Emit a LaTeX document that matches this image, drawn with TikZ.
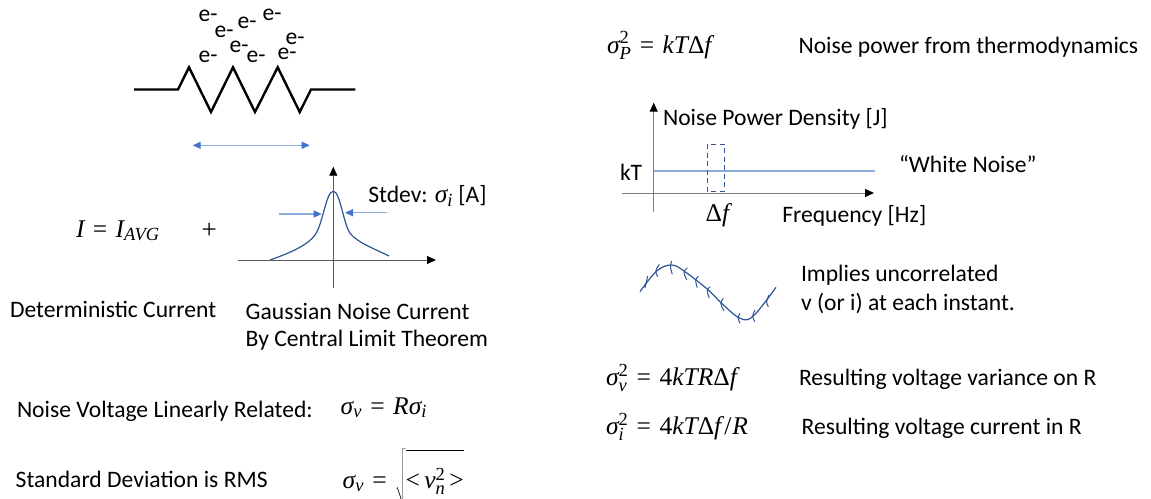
\documentclass[tikz,border=0pt]{standalone}
\usepackage[no-math]{fontspec}
\setmainfont{Carlito}
\newfontfamily\mfam{Liberation Serif}
\usetikzlibrary{arrows.meta}
\definecolor{bluetip}{HTML}{4472C4}
\definecolor{bluelight}{HTML}{8FAADC}
\definecolor{bluedark}{HTML}{2F5597}
\definecolor{axisgray}{HTML}{7F7F7F}
\newcommand\mi[1]{\hbox{\mfam\itshape\fontsize{25.5}{28}\selectfont #1}}
\newcommand\mup[1]{\hbox{\mfam\fontsize{25.5}{28}\selectfont #1}}
\newcommand\ms[1]{\hbox{\mfam\itshape\fontsize{18.5}{18.5}\selectfont #1}}
\newcommand\msu[1]{\hbox{\mfam\fontsize{18.5}{18.5}\selectfont #1}}
\newcommand\meq{\;\kern1.5pt\mup{=}\kern1.5pt\;}
\tikzset{
  txt/.style={anchor=base west,inner sep=0pt,outer sep=0pt,text=black,yshift=-1pt,font=\fontsize{23.6}{28}\selectfont},
  elec/.style={anchor=center,inner sep=0pt,outer sep=0pt,text=black,yshift=-1pt,font=\fontsize{23.6}{28}\selectfont},
  wire/.style={line width=2.4pt,black,line join=miter},
  axisline/.style={draw=axisgray,line width=1pt,-{Triangle[length=9pt,width=8pt,color=black,fill=black]}},
  bluearrow/.style={draw=bluelight,line width=1.2pt,-{Triangle[length=8pt,width=7pt,color=bluetip,fill=bluetip]}},
  bluearrows/.style={draw=bluelight,line width=1.2pt,{Triangle[length=8pt,width=7pt,color=bluetip,fill=bluetip]}-{Triangle[length=8pt,width=7pt,color=bluetip,fill=bluetip]}},
  curve/.style={draw=bluedark,line width=1.2pt},
  tick/.style={draw=bluedark,line width=1pt},
}
\begin{document}
\begin{tikzpicture}[x=1pt,y=-1pt]
\useasboundingbox (0,0) rectangle (1151,498);
% electrons
\node[elec] (e1) at (208,15) {e-};
\node[elec] (e2) at (224,31) {e-};
\node[elec] (e3) at (247,22) {e-};
\node[elec] (e4) at (272,14) {e-};
\node[elec] (e5) at (295,38) {e-};
\node[elec] (e6) at (208,56) {e-};
\node[elec] (e7) at (239,46) {e-};
\node[elec] (e8) at (256,56) {e-};
\node[elec] (e9) at (287,53) {e-};
% resistor
\coordinate (r0) at (134,89.5);
\coordinate (r1) at (178,89.5);
\coordinate (r2) at (189,67.3);
\coordinate (r3) at (211,112);
\coordinate (r4) at (233,67.3);
\coordinate (r5) at (255,112);
\coordinate (r6) at (277.7,67.3);
\coordinate (r7) at (299.7,112);
\coordinate (r8) at (311,89.5);
\coordinate (r9) at (355.3,89.5);
\draw[wire] (r0)--(r1)--(r2)--(r3)--(r4)--(r5)--(r6)--(r7)--(r8)--(r9);
\coordinate (la) at (192.7,145.3);
\coordinate (lb) at (309.7,145.3);
\draw[bluearrows] (la)--(lb);
% gaussian
\coordinate (gv0) at (333.3,288);
\coordinate (gv1) at (333.3,166.7);
\coordinate (gh0) at (238,260);
\coordinate (gh1) at (436,260);
\draw[axisline,draw=black!65,line width=0.8pt] (gv0)--(gv1);
\draw[axisline,draw=black!65,line width=0.8pt] (gh0)--(gh1);
\draw[curve] (270,260) .. controls (290,253) and (308,245) .. (315,235)
  .. controls (323,224) and (326,191.3) .. (333.3,191.3)
  .. controls (340,191.3) and (343,222) .. (350,233.3)
  .. controls (358,243) and (375,249) .. (389,256);
\coordinate (wl0) at (279.3,214);
\coordinate (wl1) at (321.7,214);
\coordinate (wr0) at (387,212.7);
\coordinate (wr1) at (345,212.7);
\draw[bluearrow] (wl0)--(wl1);
\draw[bluearrow] (wr0)--(wr1);
\node[txt] (stdev) at (368.3,201.7) {Stdev: $\mi{σ}_{\ms{i}}$ [A]};
\node[txt] (iavg) at (76,236) {$\mi{I}\meq\mi{I}_{\ms{AVG}}$};
\node[txt,anchor=center] (plus) at (209.3,230) {\mfam\fontsize{27}{28}\selectfont +};
\node[txt] (det) at (10,316) {Deterministic Current};
\node[txt] (gauss1) at (245.7,318) {Gaussian Noise Current};
\node[txt] (gauss2) at (245.7,345.7) {By Central Limit Theorem};
\node[txt] (nvl) at (17,416.7) {Noise Voltage Linearly Related:};
\node[txt] (nvlm) at (340.7,413) {$\mi{σ}_{\ms{v}}\meq\mi{Rσ}_{\ms{i}}$};
\node[txt] (sdr) at (15.7,486) {Standard Deviation is RMS};
\node[txt] (sdrm) at (342.7,487) {$\mi{σ}_{\ms{v}}\meq\sqrt{\rule[-14pt]{0pt}{50pt}\mup{<}\,\mi{v}_{\ms{n}}^{\msu{2}}\,\mup{>}}$};
% right column
\node[txt] (pm) at (607,52) {$\mi{σ}_{\ms{P}}^{\msu{2}}\meq\mi{kT}\mup{Δ}\mi{f}$};
\node[txt] (pt) at (798.5,52) {Noise power from thermodynamics};
% spectrum
\coordinate (sv0) at (653.7,212);
\coordinate (sv1) at (653.7,102.7);
\coordinate (sh0) at (622,193);
\coordinate (sh1) at (874,193);
\coordinate (k0) at (653.7,170.7);
\coordinate (k1) at (875,170.7);
\coordinate (d0) at (707.3,144);
\coordinate (d1) at (724,191.3);
\draw[axisline] (sv0)--(sv1);
\draw[axisline] (sh0)--(sh1);
\draw[draw=bluelight,line width=1.8pt] (k0)--(k1);
\draw[draw=bluedark,line width=1pt,dash pattern=on 5pt off 3.5pt] (d0) rectangle (d1);
\node[txt] (npd) at (663,124) {Noise Power Density [J]};
\node[txt] (kt) at (620,179) {kT};
\node[txt] (wn) at (899,171.7) {“White Noise”};
\node[txt] (df) at (705.7,220.7) {$\mup{Δ}\mi{f}$};
\node[txt] (fq) at (782.3,221.7) {Frequency [Hz]};
% noisy sine
\draw[curve] plot[smooth,tension=0.6] coordinates {(640,291.7) (656.7,271) (671.7,265) (685,271.7) (708.3,290) (721.7,303.3) (740,318.3) (753.3,316) (776,287.3)};
\foreach \a/\b/\c in {
 {647.7,276}/{646,282}/{645,288},
 {659.3,264.3}/{655,271}/{657.7,276.7},
 {671.7,261}/{670,266.7}/{672.3,274.3},
 {687.3,267.7}/{683,271.7}/{686.7,280},
 {698.3,276}/{695,280}/{697.3,287.7},
 {710,286.7}/{706.5,290}/{709.3,298.3},
 {723.3,298.3}/{720,303.3}/{724,311},
 {740,313.3}/{737.5,317.7}/{740,323.3},
 {755,310}/{752,316}/{754.7,321.7},
 {769,295}/{766,301.7}/{768.3,306.7}}
 {\draw[tick] (\a) .. controls (\b) .. (\c);}
\node[txt] (imp1) at (801,280.7) {Implies uncorrelated};
\node[txt] (imp2) at (801,309.3) {v (or i) at each instant.};
\node[txt] (vm) at (606,384.3) {$\mi{σ}_{\ms{v}}^{\msu{2}}\meq\mup{4}\mi{kTR}\mup{Δ}\mi{f}$};
\node[txt] (vt) at (799,384.3) {Resulting voltage variance on R};
\node[txt] (im) at (606,433.3) {$\mi{σ}_{\ms{i}}^{\msu{2}}\meq\mup{4}\mi{kT}\mup{Δ}\mi{f}\kern3pt\mup{/}\kern1pt\mi{R}$};
\node[txt] (it) at (801.7,433.3) {Resulting voltage current in R};
\end{tikzpicture}
\end{document}
